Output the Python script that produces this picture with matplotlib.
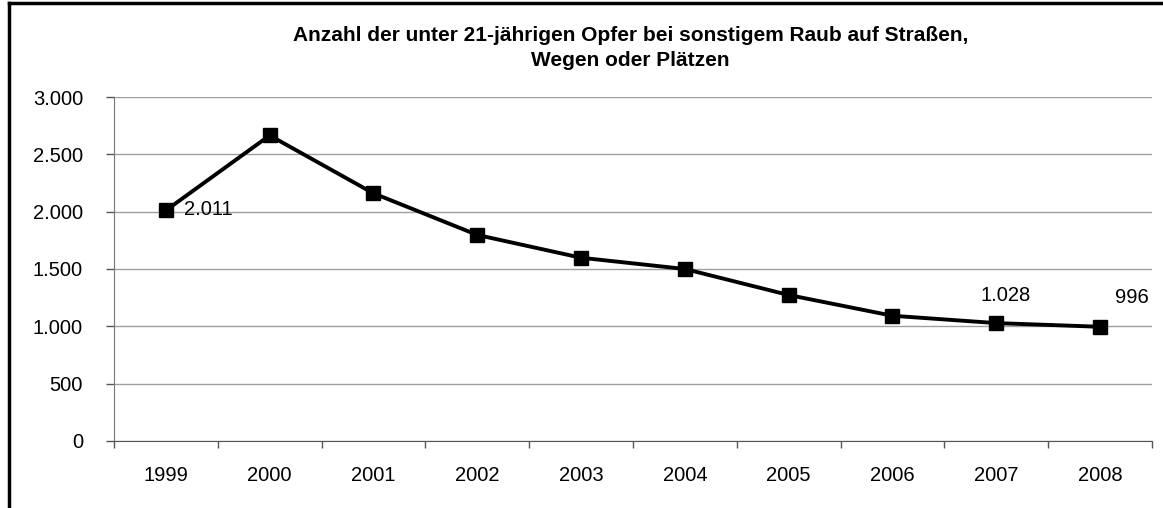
import matplotlib.pyplot as plt
from matplotlib.lines import Line2D

plt.rcParams['font.family'] = ['Liberation Sans', 'DejaVu Sans']

# Daten
jahre = ['1999', '2000', '2001', '2002', '2003', '2004', '2005', '2006', '2007', '2008']
opfer = [2011, 2665, 2160, 1797, 1598, 1500, 1273, 1092, 1028, 996]
y_ticks = [0, 500, 1000, 1500, 2000, 2500, 3000]
y_labels = ['0', '500', '1.000', '1.500', '2.000', '2.500', '3.000']

fig = plt.figure(figsize=(11.63, 5.08), dpi=100)
ax = fig.add_axes([0.098, 0.132, 0.8925, 0.677])

x = list(range(len(jahre)))
ax.plot(x, opfer, color='black', linewidth=2.8, marker='s', markersize=10.5,
        markerfacecolor='black', markeredgecolor='black', zorder=3)

ax.set_xlim(-0.5, len(jahre) - 0.5)
ax.set_ylim(0, 3000)
ax.set_yticks(y_ticks)
ax.set_yticklabels(y_labels)
ax.set_xticks(x)
ax.set_xticklabels(jahre)
ax.set_xticks([i - 0.5 for i in range(len(jahre) + 1)], minor=True)
ax.tick_params(axis='x', which='major', length=0, pad=18, labelsize=14.5)
ax.tick_params(axis='x', which='minor', length=5, width=1, color='#555555')
ax.tick_params(axis='y', length=5.8, width=1, color='#555555', pad=16.5, labelsize=14.5)

ax.grid(axis='y', color='#a0a0a0', linewidth=1)
ax.set_axisbelow(True)
for s in ['top', 'right']:
    ax.spines[s].set_visible(False)
ax.spines['left'].set_color('#777777')
ax.spines['bottom'].set_color('#555555')

# Datenbeschriftungen
ax.annotate('2.011', (0, opfer[0]), xytext=(13, 1), textcoords='offset points',
            ha='left', va='center', fontsize=14.5)
ax.annotate('1.028', (8, opfer[8]), xytext=(6.5, 16), textcoords='offset points',
            ha='center', va='baseline', fontsize=14.5)
ax.annotate('996', (9, opfer[9]), xytext=(23, 17), textcoords='offset points',
            ha='center', va='baseline', fontsize=14.5)

fig.text(0.542, 0.906, 'Anzahl der unter 21-jährigen Opfer bei sonstigem Raub auf Straßen,\nWegen oder Plätzen',
         ha='center', va='center', fontsize=15, fontweight='bold', linespacing=1.4)

# Rahmen links und oben
fig.add_artist(Line2D([0.0077, 0.0077], [0, 0.995], color='black', linewidth=2.5,
                      transform=fig.transFigure))
fig.add_artist(Line2D([0.0077, 1.0], [0.995, 0.995], color='black', linewidth=2.5,
                      transform=fig.transFigure))

fig.savefig('out.png', dpi=100)
